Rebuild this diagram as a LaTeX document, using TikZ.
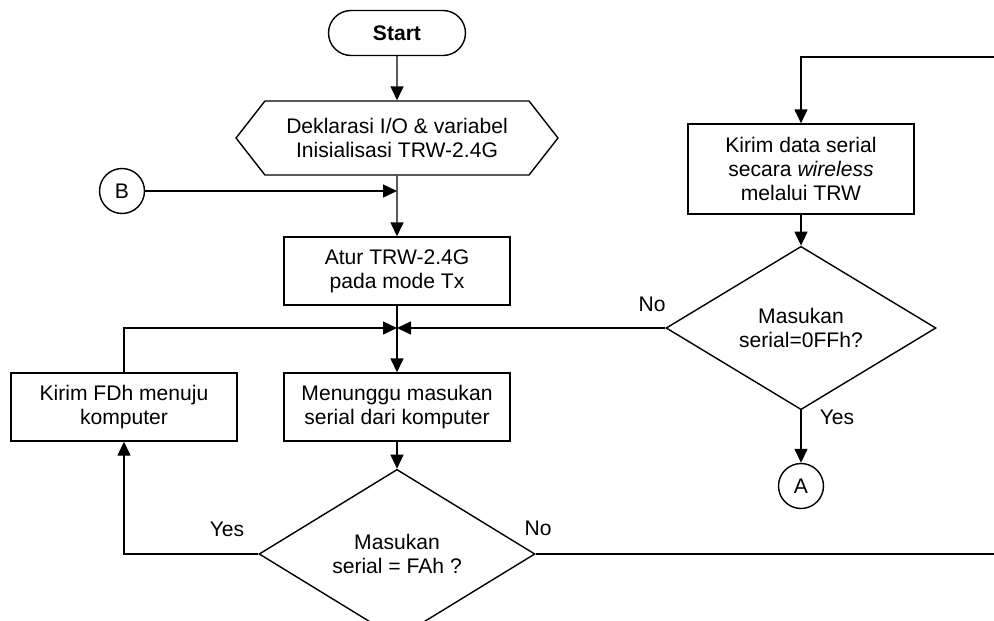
\documentclass[tikz,border=0pt]{standalone}
\usepackage{fontspec}
\setmainfont{Liberation Sans}
\usetikzlibrary{shapes.geometric,shapes.misc,shapes.symbols,arrows.meta}

\begin{document}
\begin{tikzpicture}[x=0.02cm,y=-0.02cm,line width=0.8pt,
  every node/.style={font=\fontsize{12}{13.8}\selectfont},
  terminal/.style={draw,rounded rectangle,minimum width=2.74cm,minimum height=0.9cm,inner sep=0pt},
  prep/.style={draw,signal,signal to=west and east,signal pointer angle=104,minimum width=6.44cm,minimum height=1.48cm,inner sep=0pt,align=center},
  process/.style={draw,rectangle,minimum width=4.52cm,minimum height=1.36cm,inner sep=0pt,align=center},
  decision/.style={draw,diamond,minimum width=5.52cm,minimum height=1.34cm,inner sep=0pt,align=center},
  connector/.style={draw,circle,minimum size=0.9cm,inner sep=0pt},
  flow/.style={-{Triangle[length=0.28cm,width=0.26cm]}}]

  \useasboundingbox (0,0) rectangle (994,620);

  \node[terminal] (start) at (397,33) {\textbf{Start}};
  \node[prep] (init) at (397,138) {Deklarasi I/O \& variabel\\Inisialisasi TRW-2.4G};
  \node[connector] (conB) at (122,191) {B};
  \node[process] (txmode) at (397,271) {Atur TRW-2.4G\\pada mode Tx};
  \node[process] (wait) at (397,407) {Menunggu masukan\\serial dari komputer};
  \node[process] (sendfd) at (124,407) {Kirim FDh menuju\\komputer};
  \node[decision] (isfa) at (397,554) {Masukan\\serial = FAh ?};

  \node[process,minimum height=1.8cm] (sendrf) at (801,169) {Kirim data serial\\secara \textit{wireless}\\melalui TRW};
  \node[decision,minimum width=5.4cm] (isff) at (801,328) {Masukan\\serial=0FFh?};
  \node[connector] (conA) at (801,486) {A};

  \coordinate (join) at (397,328);
  \coordinate (outR) at (994,554);
  \coordinate (inR) at (994,57);

  \draw[flow] (start) -- (init);
  \draw[flow] (init) -- (txmode);
  \draw[flow] (conB) -- (conB -| init.south);
  \draw[flow] (txmode) -- (wait);
  \draw[flow] (wait) -- (isfa);
  \draw[flow] (isfa.west) -| (sendfd.south);
  \draw[flow] (sendfd.north) |- (join);
  \draw[flow] (isff.west) -- (join);
  \draw (isfa.east) -- (outR);
  \draw[flow] (inR) -| (sendrf.north);
  \draw[flow] (sendrf) -- (isff);
  \draw[flow] (isff) -- (conA);

  \node (yesfa) at (227,529) {Yes};
  \node (nofa) at (538,528) {No};
  \node (noff) at (652,304) {No};
  \node (yesff) at (837,417) {Yes};

\end{tikzpicture}
\end{document}
